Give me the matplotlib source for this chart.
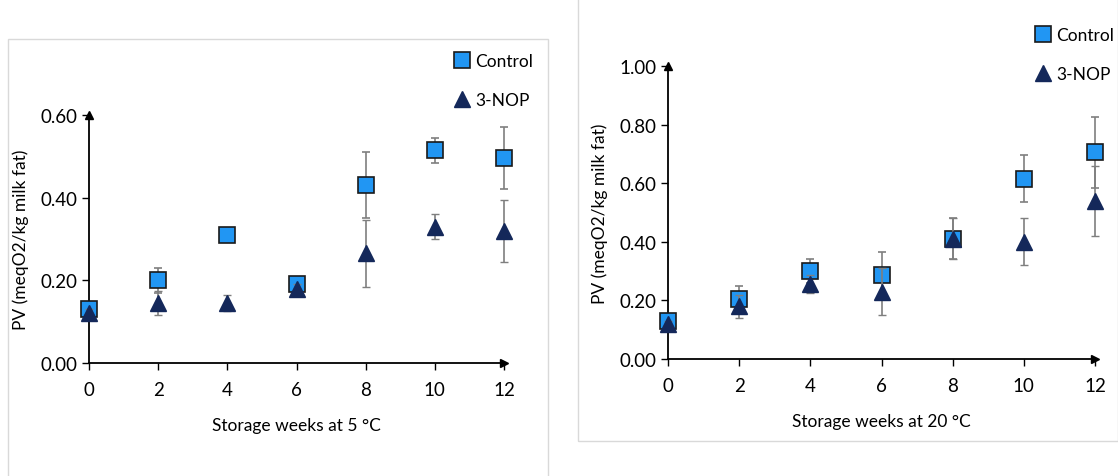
import matplotlib
matplotlib.use("Agg")
import matplotlib.pyplot as plt
from matplotlib.patches import Rectangle
from matplotlib.lines import Line2D

plt.rcParams['font.family'] = ['Lato', 'DejaVu Sans']

weeks = [0, 2, 4, 6, 8, 10, 12]

# storage at 5 C
ctrl_5 = [0.13, 0.20, 0.31, 0.19, 0.43, 0.515, 0.495]
ctrl_5_err = [0.015, 0.03, 0.01, 0.01, 0.08, 0.03, 0.075]
nop_5 = [0.12, 0.145, 0.145, 0.18, 0.265, 0.33, 0.32]
nop_5_err = [0.01, 0.03, 0.02, 0.01, 0.08, 0.03, 0.075]

# storage at 20 C
ctrl_20 = [0.13, 0.205, 0.30, 0.285, 0.41, 0.615, 0.705]
ctrl_20_err = [0.01, 0.045, 0.04, 0.08, 0.07, 0.08, 0.12]
nop_20 = [0.12, 0.18, 0.255, 0.23, 0.41, 0.40, 0.54]
nop_20_err = [0.01, 0.04, 0.03, 0.08, 0.07, 0.08, 0.12]

ctrl_color = '#2196F3'
nop_color = '#14285A'
err_color = '#7f7f7f'

fig = plt.figure(figsize=(11.18, 4.77), dpi=100)

# light frames around each panel
fig.patches.append(Rectangle((8/1118, -0.05), 540/1118, (477-40)/477 + 0.05,
                             transform=fig.transFigure, fill=False,
                             edgecolor='#d9d9d9', lw=1))
fig.patches.append(Rectangle((578/1118, (477-442)/477), 540/1118, 442/477 + 0.05,
                             transform=fig.transFigure, fill=False,
                             edgecolor='#d9d9d9', lw=1))

leg_handles = [
    Line2D([], [], ls='none', marker='s', ms=11, mfc=ctrl_color, mec='#1a1a1a', mew=1.2),
    Line2D([], [], ls='none', marker='^', ms=12, mfc=nop_color, mec=nop_color),
]


def panel(rect, ctrl, ctrl_err, nop, nop_err, ymax, yticks, xlabel, leg_pos):
    ax = fig.add_axes(rect)
    ax.errorbar(weeks, ctrl, yerr=ctrl_err, fmt='s', ms=11, mfc=ctrl_color,
                mec='#1a1a1a', mew=1.2, ecolor=err_color, elinewidth=1.2,
                capsize=3, clip_on=False, zorder=3)
    ax.errorbar(weeks, nop, yerr=nop_err, fmt='^', ms=12, mfc=nop_color,
                mec=nop_color, ecolor=err_color, elinewidth=1.2,
                capsize=3, clip_on=False, zorder=4)
    ax.set_xlim(0, 12)
    ax.set_ylim(0, ymax)
    ax.set_xticks(weeks)
    ax.set_yticks(yticks)
    ax.set_yticklabels(['%.2f' % v for v in yticks])
    ax.spines['top'].set_visible(False)
    ax.spines['right'].set_visible(False)
    ax.spines['left'].set_linewidth(1.3)
    ax.spines['bottom'].set_linewidth(1.3)
    ax.tick_params(direction='out', length=5, width=1, labelsize=13.5)
    ax.tick_params(axis='x', pad=8)
    ax.plot(1, 0, '>k', ms=6, transform=ax.get_yaxis_transform(), clip_on=False)
    ax.plot(0, 1, '^k', ms=6, transform=ax.get_xaxis_transform(), clip_on=False)
    ax.set_xlabel(xlabel, fontsize=12.5, labelpad=14)
    ax.set_ylabel('PV (meqO2/kg milk fat)', fontsize=12.5, labelpad=8)
    fig.legend(leg_handles, ['Control', '3-NOP'], loc='upper left',
               bbox_to_anchor=leg_pos, frameon=False, fontsize=12.5,
               handlelength=0.8, handletextpad=0.35, labelspacing=1.35,
               borderaxespad=0)
    return ax


panel([89/1118, (477-364)/477, 415/1118, 248/477],
      ctrl_5, ctrl_5_err, nop_5, nop_5_err, 0.6,
      [0.0, 0.2, 0.4, 0.6], 'Storage weeks at 5 \u00b0C',
      (448/1118, (477-47)/477))

panel([668/1118, (477-360)/477, 427/1118, 293/477],
      ctrl_20, ctrl_20_err, nop_20, nop_20_err, 1.0,
      [0.0, 0.2, 0.4, 0.6, 0.8, 1.0], 'Storage weeks at 20 \u00b0C',
      (1029/1118, (477-21)/477))

fig.savefig('out.png', dpi=100)
